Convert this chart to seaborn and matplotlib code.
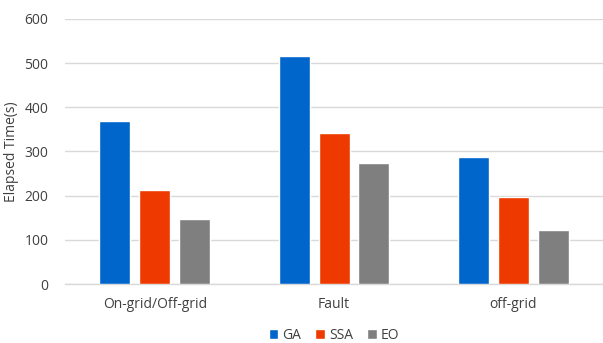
import matplotlib
matplotlib.use("Agg")
import matplotlib.pyplot as plt
import seaborn as sns
import pandas as pd

categories = ["On-grid/Off-grid", "Fault", "off-grid"]
series = ["GA", "SSA", "EO"]
ga = [369, 516, 287]
ssa = [213, 342, 196]
eo = [146, 274, 122]
yticks = [0, 100, 200, 300, 400, 500, 600]

colors = ["#0066CC", "#EE3A00", "#7F7F7F"]

rows = []
for name, vals in zip(series, [ga, ssa, eo]):
    for cat, v in zip(categories, vals):
        rows.append({"Category": cat, "Algorithm": name, "Time": v})
df = pd.DataFrame(rows)

sns.set_theme(style="white")
plt.rcParams["font.family"] = ["Open Sans", "DejaVu Sans"]

fig = plt.figure(figsize=(6.03, 3.43), dpi=100)
ax = fig.add_axes([0.108, 0.172, 0.892, 0.773])

sns.barplot(data=df, x="Category", y="Time", hue="Algorithm",
            order=categories, hue_order=series, palette=colors,
            width=0.667, gap=0.225, saturation=1, ax=ax, zorder=3)

ax.set_ylim(0, 600)
ax.set_yticks(yticks)
ax.set_xlim(-0.5, 2.5)
ax.yaxis.grid(True, color="#D9D9D9", linewidth=1, zorder=0)
ax.set_axisbelow(True)
for side in ["top", "right", "left"]:
    ax.spines[side].set_visible(False)
ax.spines["bottom"].set_color("#D9D9D9")
ax.spines["bottom"].set_linewidth(1)
ax.tick_params(axis="both", length=0, labelsize=10, colors="#404040", pad=9)
ax.tick_params(axis="y", pad=12)
ax.set_xlabel("")
ax.set_ylabel("Elapsed Time(s)", fontsize=10, color="#404040", labelpad=4)

handles, labels = ax.get_legend_handles_labels()
ax.legend(handles, labels, loc="upper center", bbox_to_anchor=(0.5, -0.155),
          ncol=3, frameon=False, fontsize=10, handlelength=0.7, handleheight=0.7,
          handletextpad=0.3, columnspacing=1.0, labelcolor="#404040",
          borderaxespad=0, borderpad=0.2)

fig.savefig("out.png", dpi=100)
